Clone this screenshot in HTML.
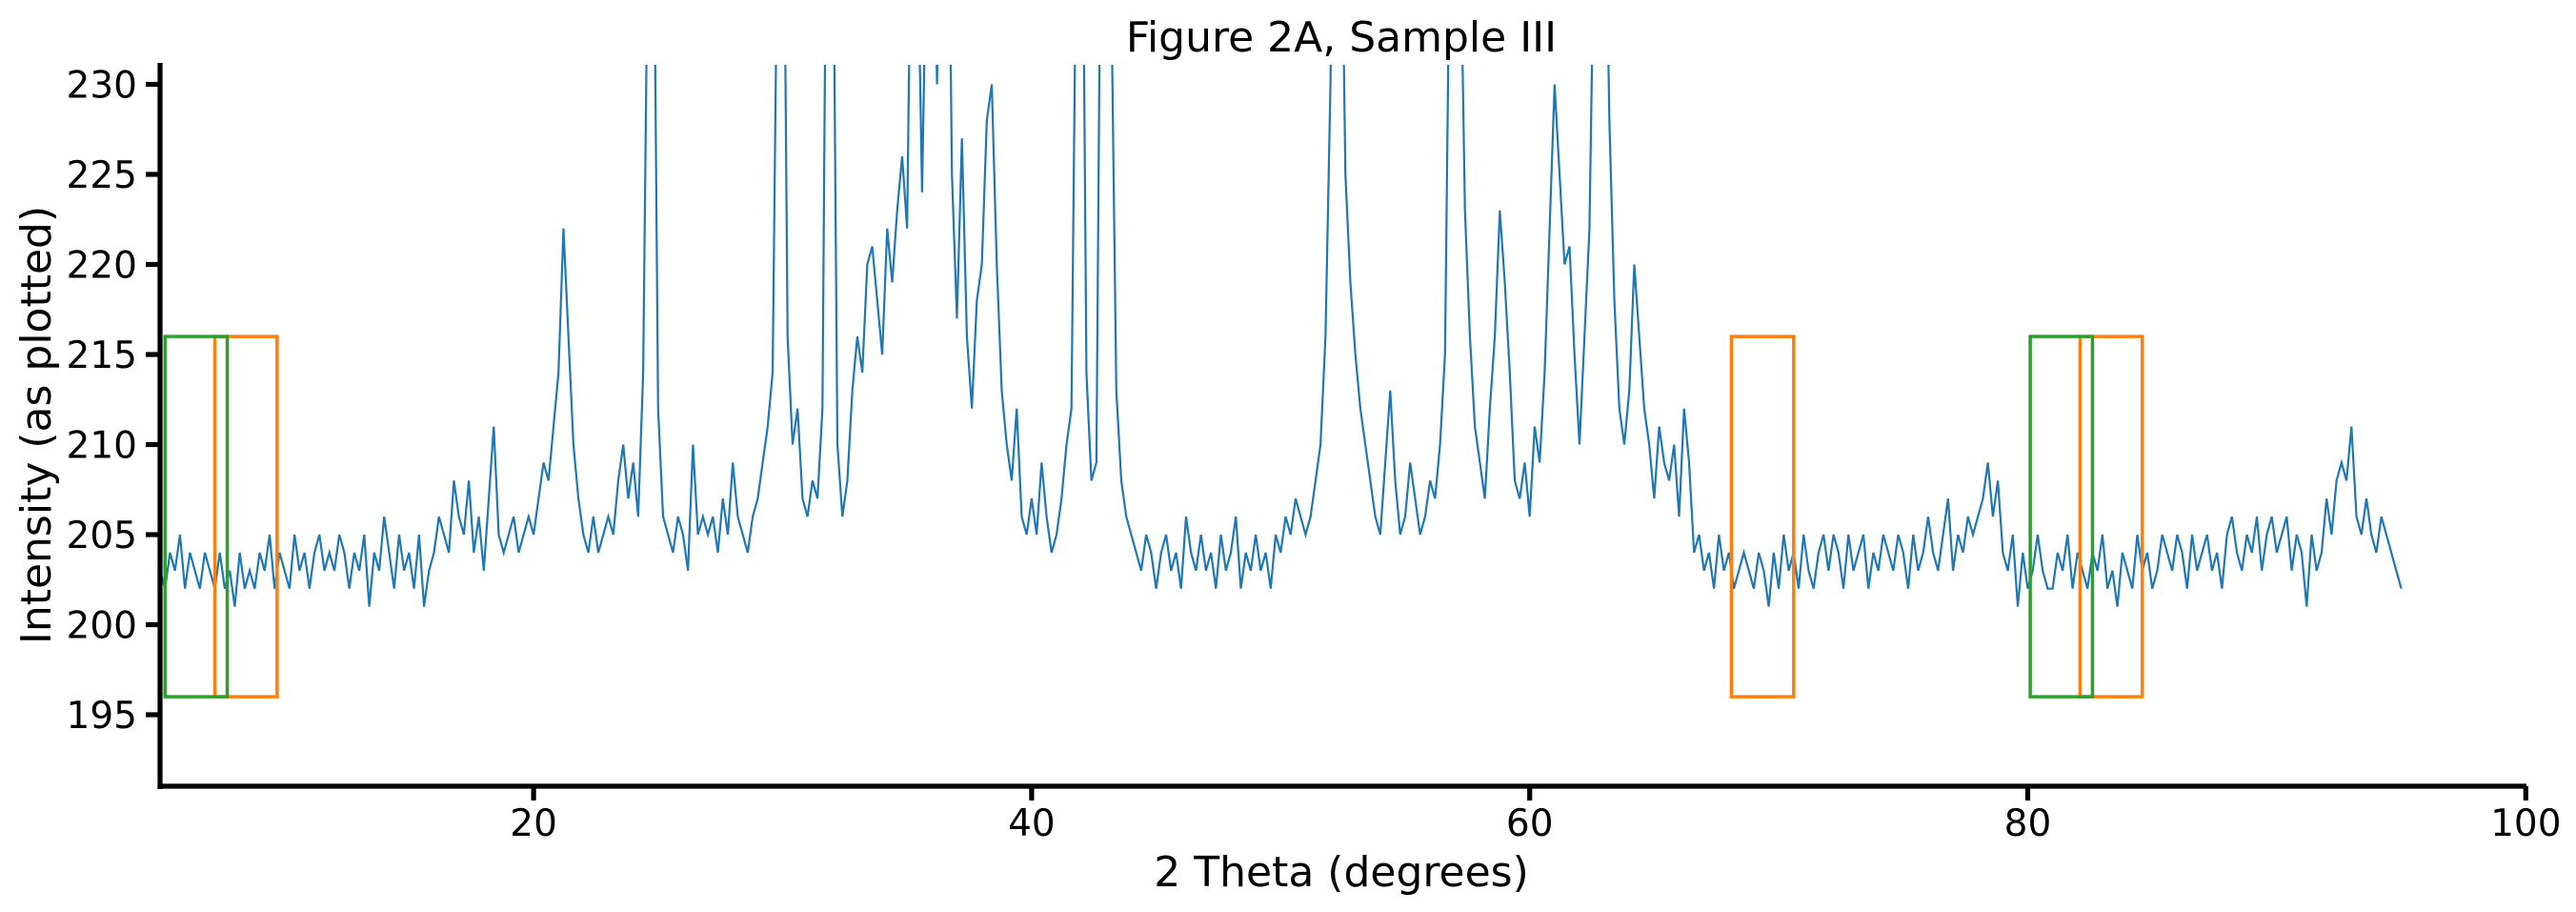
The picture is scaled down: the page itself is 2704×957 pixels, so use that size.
<!DOCTYPE html>
<html>
<head>
<meta charset="utf-8">
<style>
  html,body{margin:0;padding:0;background:#fff;}
  body{width:2704px;height:957px;overflow:hidden;}
  svg{display:block;font-family:"DejaVu Sans","Liberation Sans",sans-serif;}
</style>
</head>
<body>
<svg id="chart" width="2704" height="957" viewBox="0 0 2704 957" xmlns="http://www.w3.org/2000/svg">
  <defs>
    <clipPath id="plotclip"><rect x="168" y="68" width="2483" height="757"/></clipPath>
  </defs>
  <text x="1408" y="54" font-size="44" text-anchor="middle" fill="#000">Figure 2A, Sample III</text>
  <g id="plot" clip-path="url(#plotclip)"></g>
  <g id="boxes"></g>
  <g id="axes"></g>
  <text x="1408" y="930" font-size="44" text-anchor="middle" fill="#000">2 Theta (degrees)</text>
  <text transform="translate(53,446) rotate(-90)" font-size="44" text-anchor="middle" fill="#000">Intensity (as plotted)</text>
</svg>
<script>
const xStart = 5.0;
const xStep = 0.2;
const intensity = [
203,202,204,203,205,202,204,203,202,204,
203,202,204,202,203,201,204,202,203,202,
204,203,205,202,204,203,202,205,203,204,
202,204,205,203,204,203,205,204,202,204,
203,205,201,204,203,206,204,202,205,203,
204,202,205,201,203,204,206,205,204,208,
206,205,208,204,206,203,207,211,205,204,
205,206,204,205,206,205,207,209,208,211,
214,222,216,210,207,205,204,206,204,205,
206,205,208,210,207,209,206,214,240,245,
212,206,205,204,206,205,203,210,205,206,
205,206,204,207,205,209,206,205,204,206,
207,209,211,214,240,250,216,210,212,207,
206,208,207,212,250,245,210,206,208,213,
216,214,220,221,218,215,222,219,223,226,
222,245,240,224,240,250,230,246,250,225,
217,227,216,212,218,220,228,230,220,213,
210,208,212,206,205,207,205,209,206,204,
205,207,210,212,240,250,214,208,209,245,
250,235,213,208,206,205,204,203,205,204,
202,204,205,203,204,202,206,204,203,205,
203,204,202,205,203,204,206,202,204,203,
205,203,204,202,205,204,206,205,207,206,
205,206,208,210,216,230,250,245,225,219,
215,212,210,208,206,205,209,213,208,205,
206,209,207,205,206,208,207,210,215,240,
250,240,223,216,211,209,207,212,216,223,
219,214,208,207,209,206,211,209,214,222,
230,225,220,221,215,210,216,222,240,250,
245,228,218,212,210,213,220,216,212,210,
207,211,209,208,210,206,212,209,204,205,
203,204,202,205,203,204,202,203,204,203,
202,204,203,201,204,202,205,203,204,202,
205,203,202,204,205,203,205,204,202,205,
203,204,205,202,204,203,205,204,203,205,
204,202,205,203,204,206,204,203,205,207,
203,205,204,206,205,206,207,209,206,208,
204,203,205,201,204,202,203,205,203,202,
202,204,203,205,202,204,203,202,204,203,
205,202,203,201,204,203,202,205,203,204,
202,203,205,204,203,205,204,202,205,203,
204,205,203,204,202,205,206,204,203,205,
204,206,203,205,206,204,205,206,203,205,
204,201,205,203,204,207,205,208,209,208,
211,206,205,207,205,204,206,205,204,203,
202
];
const orangeBoxesX0 = [7.2, 68.1, 82.1];
const orangeBoxesX1 = [9.7, 70.6, 84.6];
const greenBoxesX0 = [5.2, 80.1];
const greenBoxesX1 = [7.7, 82.6];
const boxLow = 196;
const boxHigh = 216;
const xTicks = [20, 40, 60, 80, 100];
const yTicks = [195, 200, 205, 210, 215, 220, 225, 230];

const X0 = 168, XPX = 26.14, XMIN = 5;
const YBASE = 750, YPX = 18.9, YREF = 195;
function xs(d){ return X0 + (d - XMIN) * XPX; }
function ys(v){ return YBASE - (v - YREF) * YPX; }

const NS = 'http://www.w3.org/2000/svg';
const plot = document.getElementById('plot');
const boxes = document.getElementById('boxes');
const axes = document.getElementById('axes');

let d = '';
for (let i = 0; i < intensity.length; i++) {
  const xv = xStart + i * xStep;
  d += (i ? 'L' : 'M') + xs(xv).toFixed(2) + ' ' + ys(intensity[i]).toFixed(2);
}
const line = document.createElementNS(NS, 'path');
line.setAttribute('d', d);
line.setAttribute('fill', 'none');
line.setAttribute('stroke', '#1f77b4');
line.setAttribute('stroke-width', '2.2');
line.setAttribute('stroke-linejoin', 'miter');


plot.appendChild(line);

function addBox(x0, x1, color, name){
  const r = document.createElementNS(NS, 'rect');
  r.setAttribute('x', xs(x0));
  r.setAttribute('y', ys(boxHigh));
  r.setAttribute('width', xs(x1) - xs(x0));
  r.setAttribute('height', ys(boxLow) - ys(boxHigh));
  r.setAttribute('fill', 'none');
  r.setAttribute('stroke', color);
  r.setAttribute('stroke-width', '3.5');
  
  
  boxes.appendChild(r);
}
for (let i = 0; i < orangeBoxesX0.length; i++) addBox(orangeBoxesX0[i], orangeBoxesX1[i], '#ff7f0e', 'orange-region-box');
for (let i = 0; i < greenBoxesX0.length; i++) addBox(greenBoxesX0[i], greenBoxesX1[i], '#2ca02c', 'green-region-box');

function addLine(x1,y1,x2,y2,w,name){
  const l = document.createElementNS(NS, 'line');
  l.setAttribute('x1', x1); l.setAttribute('y1', y1);
  l.setAttribute('x2', x2); l.setAttribute('y2', y2);
  l.setAttribute('stroke', '#000');
  l.setAttribute('stroke-width', w);
  
  
  axes.appendChild(l);
}
addLine(X0, 66, X0, 828, 5.2, 'y-axis-spine');
addLine(X0 - 2.6, 825, 2652, 825, 5.2, 'x-axis-spine');

xTicks.forEach(function(t){
  const x = xs(t);
  addLine(x, 825, x, 840, 5.2, 'x-tick');
  const tx = document.createElementNS(NS, 'text');
  tx.setAttribute('x', x);
  tx.setAttribute('y', 877);
  tx.setAttribute('font-size', '39');
  tx.setAttribute('text-anchor', 'middle');
  
  
  tx.textContent = t;
  axes.appendChild(tx);
});
yTicks.forEach(function(t){
  const y = ys(t);
  addLine(X0 - 15, y, X0, y, 5.2, 'y-tick');
  const tx = document.createElementNS(NS, 'text');
  tx.setAttribute('x', 144);
  tx.setAttribute('y', y + 14);
  tx.setAttribute('font-size', '39');
  tx.setAttribute('text-anchor', 'end');
  
  
  tx.textContent = t;
  axes.appendChild(tx);
});
</script>
</body>
</html>
